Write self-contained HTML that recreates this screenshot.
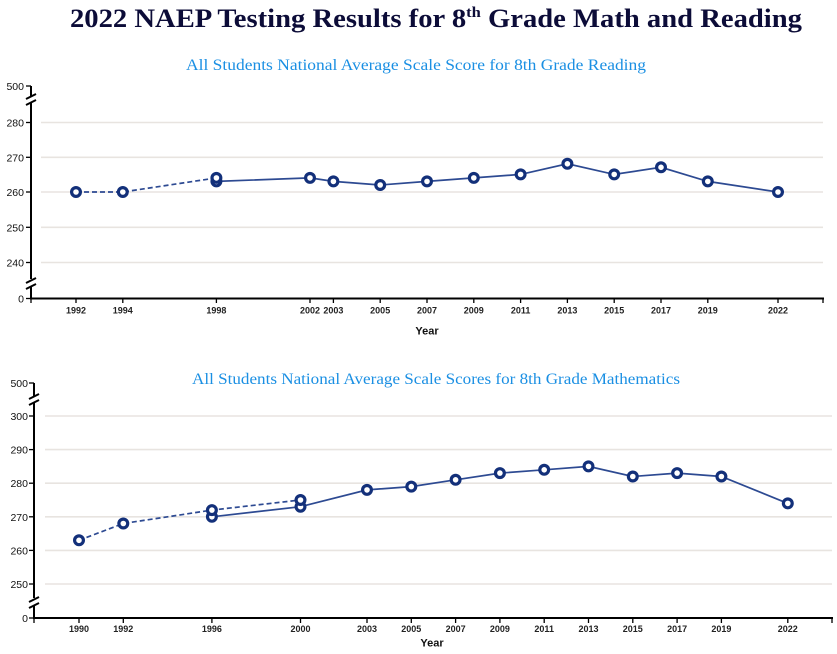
<!DOCTYPE html>
<html>
<head>
<meta charset="utf-8">
<style>
html,body{margin:0;padding:0;background:#fff;}
svg{display:block;}
.yl{font-family:"Liberation Sans",Arial,sans-serif;font-size:10.5px;fill:#111;}
.xl{font-family:"Liberation Sans",Arial,sans-serif;font-size:9px;font-weight:bold;fill:#222;}
.yr{font-family:"Liberation Sans",Arial,sans-serif;font-size:11px;font-weight:bold;fill:#111;}
.sub{font-family:"Liberation Serif",Georgia,serif;font-size:16px;fill:#1a8fe3;}
.ttl{font-family:"Liberation Serif",Georgia,serif;font-size:26px;font-weight:bold;fill:#0c0c38;}
.grid{stroke:#e8e4e0;stroke-width:1.6;}
.ax{stroke:#000;stroke-width:2;fill:none;}
.tk{stroke:#000;stroke-width:1.3;}
.ln{stroke:#2d4a92;stroke-width:1.7;fill:none;}
.dl{stroke:#2d4a92;stroke-width:1.7;fill:none;stroke-dasharray:5,3;}
.pt{fill:#fff;stroke:#13307a;stroke-width:3.2;}
</style>
</head>
<body>
<svg width="837" height="654" viewBox="0 0 837 654" xmlns="http://www.w3.org/2000/svg">
<text class="ttl" x="70" y="27" textLength="732" lengthAdjust="spacingAndGlyphs">2022 NAEP Testing Results for 8<tspan font-size="15" dy="-10">th</tspan><tspan dy="10"> Grade Math and Reading</tspan></text>

<text class="sub" x="186" y="70" textLength="460" lengthAdjust="spacingAndGlyphs">All Students National Average Scale Score for 8th Grade Reading</text>

<line class="grid" x1="41" y1="122.5" x2="823" y2="122.5"/>
<line class="grid" x1="41" y1="157.3" x2="823" y2="157.3"/>
<line class="grid" x1="41" y1="192" x2="823" y2="192"/>
<line class="grid" x1="41" y1="227.3" x2="823" y2="227.3"/>
<line class="grid" x1="41" y1="262.5" x2="823" y2="262.5"/>

<line class="ax" x1="31" y1="86" x2="31" y2="96"/>
<line class="ax" x1="26" y1="99" x2="36" y2="94"/>
<line class="ax" x1="26" y1="105" x2="36" y2="100"/>
<line class="ax" x1="31" y1="103" x2="31" y2="279"/>
<line class="ax" x1="26" y1="283" x2="36" y2="278"/>
<line class="ax" x1="26" y1="289" x2="36" y2="284"/>
<line class="ax" x1="31" y1="287" x2="31" y2="299"/>
<line class="tk" x1="26" y1="86" x2="31" y2="86"/>
<line class="tk" x1="26" y1="122.5" x2="31" y2="122.5"/>
<line class="tk" x1="26" y1="157.3" x2="31" y2="157.3"/>
<line class="tk" x1="26" y1="192" x2="31" y2="192"/>
<line class="tk" x1="26" y1="227.3" x2="31" y2="227.3"/>
<line class="tk" x1="26" y1="262.5" x2="31" y2="262.5"/>
<line class="tk" x1="26" y1="298.5" x2="31" y2="298.5"/>
<g class="yl" text-anchor="end">
<text x="24" y="90">500</text>
<text x="24" y="126.5">280</text>
<text x="24" y="161.3">270</text>
<text x="24" y="196">260</text>
<text x="24" y="231.3">250</text>
<text x="24" y="266.5">240</text>
<text x="24" y="302.5">0</text>
</g>
<line class="ax" x1="30" y1="298.5" x2="824" y2="298.5"/>
<g class="tk">
<line x1="31" y1="298" x2="31" y2="303"/>
<line x1="823" y1="298" x2="823" y2="303"/>
<line x1="76" y1="298" x2="76" y2="303"/>
<line x1="122.8" y1="298" x2="122.8" y2="303"/>
<line x1="216.4" y1="298" x2="216.4" y2="303"/>
<line x1="310" y1="298" x2="310" y2="303"/>
<line x1="333.4" y1="298" x2="333.4" y2="303"/>
<line x1="380.2" y1="298" x2="380.2" y2="303"/>
<line x1="427" y1="298" x2="427" y2="303"/>
<line x1="473.8" y1="298" x2="473.8" y2="303"/>
<line x1="520.6" y1="298" x2="520.6" y2="303"/>
<line x1="567.4" y1="298" x2="567.4" y2="303"/>
<line x1="614.2" y1="298" x2="614.2" y2="303"/>
<line x1="661" y1="298" x2="661" y2="303"/>
<line x1="707.8" y1="298" x2="707.8" y2="303"/>
<line x1="778" y1="298" x2="778" y2="303"/>
</g>
<g class="xl" text-anchor="middle">
<text x="76" y="313.5">1992</text>
<text x="122.8" y="313.5">1994</text>
<text x="216.4" y="313.5">1998</text>
<text x="310" y="313.5">2002</text>
<text x="333.4" y="313.5">2003</text>
<text x="380.2" y="313.5">2005</text>
<text x="427" y="313.5">2007</text>
<text x="473.8" y="313.5">2009</text>
<text x="520.6" y="313.5">2011</text>
<text x="567.4" y="313.5">2013</text>
<text x="614.2" y="313.5">2015</text>
<text x="661" y="313.5">2017</text>
<text x="707.8" y="313.5">2019</text>
<text x="778" y="313.5">2022</text>
</g>
<text class="yr" x="427" y="334.5" text-anchor="middle">Year</text>

<polyline class="dl" points="76,192 122.8,192 216.4,177.9"/>
<polyline class="ln" points="216.4,181.4 310,177.9 333.4,181.4 380.2,185 427,181.4 473.8,177.9 520.6,174.4 567.4,163.8 614.2,174.4 661,167.3 707.8,181.4 778,192"/>
<g class="pt">
<circle cx="76" cy="192" r="4.4"/>
<circle cx="122.8" cy="192" r="4.4"/>
<circle cx="216.4" cy="181.4" r="4.4"/>
<circle cx="216.4" cy="177.9" r="4.4"/>
<circle cx="310" cy="177.9" r="4.4"/>
<circle cx="333.4" cy="181.4" r="4.4"/>
<circle cx="380.2" cy="185" r="4.4"/>
<circle cx="427" cy="181.4" r="4.4"/>
<circle cx="473.8" cy="177.9" r="4.4"/>
<circle cx="520.6" cy="174.4" r="4.4"/>
<circle cx="567.4" cy="163.8" r="4.4"/>
<circle cx="614.2" cy="174.4" r="4.4"/>
<circle cx="661" cy="167.3" r="4.4"/>
<circle cx="707.8" cy="181.4" r="4.4"/>
<circle cx="778" cy="192" r="4.4"/>
</g>

<text class="sub" x="192" y="384" textLength="488" lengthAdjust="spacingAndGlyphs">All Students National Average Scale Scores for 8th Grade Mathematics</text>

<line class="grid" x1="45" y1="416" x2="832" y2="416"/>
<line class="grid" x1="45" y1="449.6" x2="832" y2="449.6"/>
<line class="grid" x1="45" y1="483.2" x2="832" y2="483.2"/>
<line class="grid" x1="45" y1="516.8" x2="832" y2="516.8"/>
<line class="grid" x1="45" y1="550.4" x2="832" y2="550.4"/>
<line class="grid" x1="45" y1="584" x2="832" y2="584"/>

<line class="ax" x1="34" y1="383" x2="34" y2="396"/>
<line class="ax" x1="29" y1="399" x2="39" y2="394"/>
<line class="ax" x1="29" y1="405" x2="39" y2="400"/>
<line class="ax" x1="34" y1="403" x2="34" y2="598"/>
<line class="ax" x1="29" y1="602" x2="39" y2="597"/>
<line class="ax" x1="29" y1="608" x2="39" y2="603"/>
<line class="ax" x1="34" y1="606" x2="34" y2="619"/>
<line class="tk" x1="29" y1="383" x2="34" y2="383"/>
<line class="tk" x1="29" y1="416" x2="34" y2="416"/>
<line class="tk" x1="29" y1="449.6" x2="34" y2="449.6"/>
<line class="tk" x1="29" y1="483.2" x2="34" y2="483.2"/>
<line class="tk" x1="29" y1="516.8" x2="34" y2="516.8"/>
<line class="tk" x1="29" y1="550.4" x2="34" y2="550.4"/>
<line class="tk" x1="29" y1="584" x2="34" y2="584"/>
<line class="tk" x1="29" y1="618" x2="34" y2="618"/>
<g class="yl" text-anchor="end">
<text x="28" y="387">500</text>
<text x="28" y="420">300</text>
<text x="28" y="453.6">290</text>
<text x="28" y="487.2">280</text>
<text x="28" y="520.8">270</text>
<text x="28" y="554.4">260</text>
<text x="28" y="588">250</text>
<text x="28" y="622">0</text>
</g>
<line class="ax" x1="33" y1="618" x2="833" y2="618"/>
<g class="tk">
<line x1="34" y1="618" x2="34" y2="623"/>
<line x1="832" y1="618" x2="832" y2="623"/>
<line x1="79" y1="618" x2="79" y2="623"/>
<line x1="123.3" y1="618" x2="123.3" y2="623"/>
<line x1="211.9" y1="618" x2="211.9" y2="623"/>
<line x1="300.5" y1="618" x2="300.5" y2="623"/>
<line x1="367" y1="618" x2="367" y2="623"/>
<line x1="411.3" y1="618" x2="411.3" y2="623"/>
<line x1="455.6" y1="618" x2="455.6" y2="623"/>
<line x1="499.9" y1="618" x2="499.9" y2="623"/>
<line x1="544.2" y1="618" x2="544.2" y2="623"/>
<line x1="588.5" y1="618" x2="588.5" y2="623"/>
<line x1="632.8" y1="618" x2="632.8" y2="623"/>
<line x1="677.1" y1="618" x2="677.1" y2="623"/>
<line x1="721.4" y1="618" x2="721.4" y2="623"/>
<line x1="787.8" y1="618" x2="787.8" y2="623"/>
</g>
<g class="xl" text-anchor="middle">
<text x="79" y="632">1990</text>
<text x="123.3" y="632">1992</text>
<text x="211.9" y="632">1996</text>
<text x="300.5" y="632">2000</text>
<text x="367" y="632">2003</text>
<text x="411.3" y="632">2005</text>
<text x="455.6" y="632">2007</text>
<text x="499.9" y="632">2009</text>
<text x="544.2" y="632">2011</text>
<text x="588.5" y="632">2013</text>
<text x="632.8" y="632">2015</text>
<text x="677.1" y="632">2017</text>
<text x="721.4" y="632">2019</text>
<text x="787.8" y="632">2022</text>
</g>
<text class="yr" x="432" y="646.5" text-anchor="middle">Year</text>

<polyline class="dl" points="79,540.3 123.3,523.5 211.9,510.1 300.5,500"/>
<polyline class="ln" points="211.9,516.8 300.5,506.7 367,489.9 411.3,486.6 455.6,479.8 499.9,473.1 544.2,469.8 588.5,466.4 632.8,476.5 677.1,473.1 721.4,476.5 787.8,503.4"/>
<g class="pt">
<circle cx="79" cy="540.3" r="4.4"/>
<circle cx="123.3" cy="523.5" r="4.4"/>
<circle cx="211.9" cy="516.8" r="4.4"/>
<circle cx="211.9" cy="510.1" r="4.4"/>
<circle cx="300.5" cy="506.7" r="4.4"/>
<circle cx="300.5" cy="500" r="4.4"/>
<circle cx="367" cy="489.9" r="4.4"/>
<circle cx="411.3" cy="486.6" r="4.4"/>
<circle cx="455.6" cy="479.8" r="4.4"/>
<circle cx="499.9" cy="473.1" r="4.4"/>
<circle cx="544.2" cy="469.8" r="4.4"/>
<circle cx="588.5" cy="466.4" r="4.4"/>
<circle cx="632.8" cy="476.5" r="4.4"/>
<circle cx="677.1" cy="473.1" r="4.4"/>
<circle cx="721.4" cy="476.5" r="4.4"/>
<circle cx="787.8" cy="503.4" r="4.4"/>
</g>
</svg>
</body>
</html>
